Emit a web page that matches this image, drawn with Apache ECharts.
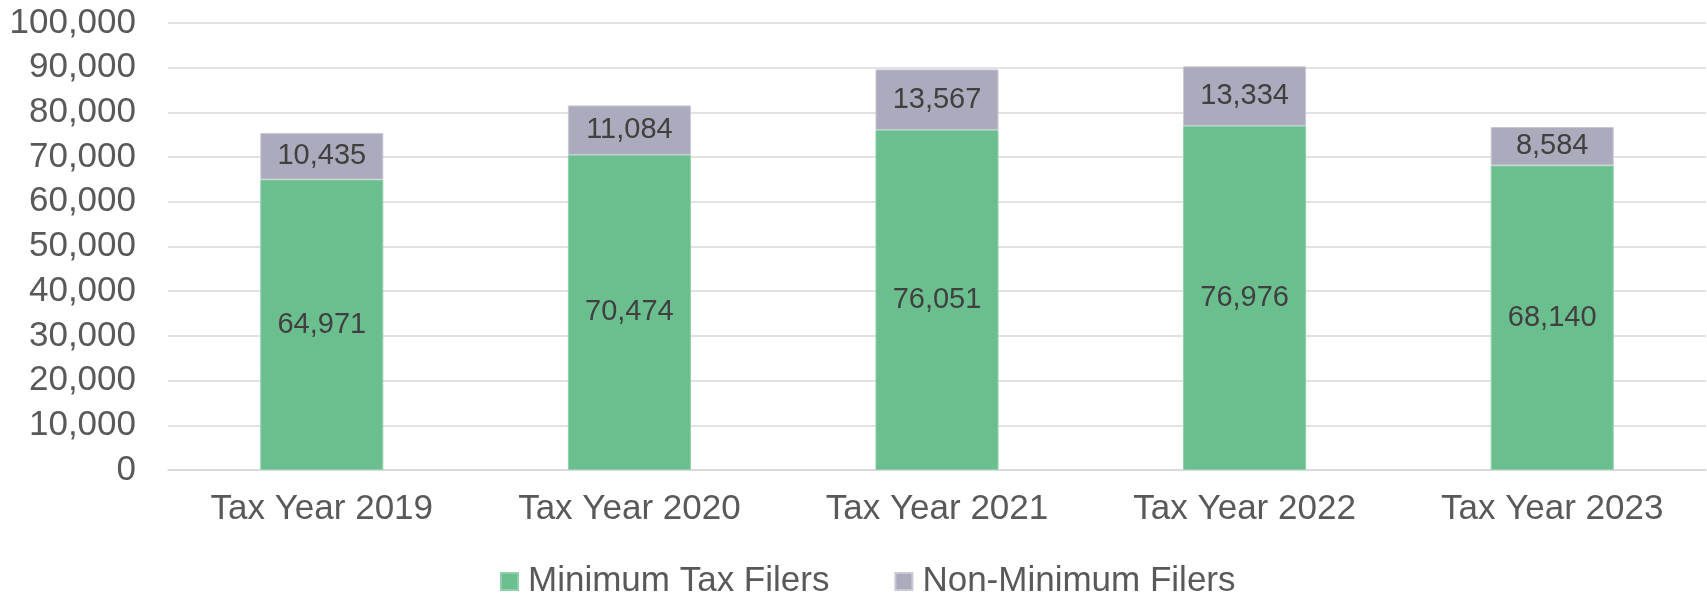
<!DOCTYPE html>
<html>
<head>
<meta charset="utf-8">
<script src="https://cdn.jsdelivr.net/npm/echarts@6/dist/echarts.min.js"></script>
<style>
  html, body { margin: 0; padding: 0; background: #ffffff; }
  #chart { width: 1707px; height: 596px; }
</style>
</head>
<body>
<div id="chart"></div>
<script>
// Filers by tax year, stacked: minimum-tax filers below, everyone else on top
const categories = ['Tax Year 2019', 'Tax Year 2020', 'Tax Year 2021', 'Tax Year 2022', 'Tax Year 2023'];
const minimumTaxFilers = [64971, 70474, 76051, 76976, 68140];
const nonMinimumFilers = [10435, 11084, 13567, 13334, 8584];
const seriesNames = ['Minimum Tax Filers', 'Non-Minimum Filers'];

const FONT = '"Liberation Sans", Arial, sans-serif';
const fmt = v => v.toLocaleString('en-US');

const chart = echarts.init(document.getElementById('chart'), null, { renderer: 'canvas' });

// value label drawn centred inside each stacked segment
function segmentLabel() {
  return {
    show: true,
    position: 'inside',
    formatter: p => '{v|' + fmt(p.value) + '}',
    rich: {
      v: { color: '#404040', fontFamily: FONT, fontSize: 29, lineHeight: 34 }
    }
  };
}

chart.setOption({
  animation: false,
  backgroundColor: '#ffffff',
  grid: { left: 168, right: 1, top: 23, bottom: 126, containLabel: false },
  legend: {
    data: seriesNames,
    left: 495,
    top: 559,
    itemWidth: 17,
    itemHeight: 17,
    itemGap: 65,
    icon: 'rect',
    textStyle: { color: '#595959', fontFamily: FONT, fontSize: 35, padding: [0, 0, 0, 5] }
  },
  xAxis: {
    type: 'category',
    data: categories,
    axisLine: { show: true, lineStyle: { color: '#d9d9d9', width: 1.5 } },
    axisTick: { show: false },
    axisLabel: { color: '#595959', fontFamily: FONT, fontSize: 35, margin: 22 }
  },
  yAxis: {
    type: 'value',
    min: 0,
    max: 100000,
    interval: 10000,
    axisLine: { show: false },
    axisTick: { show: false },
    splitLine: { lineStyle: { color: '#d9d9d9', width: 1.5 } },
    axisLabel: { color: '#595959', fontFamily: FONT, fontSize: 35, margin: 32, formatter: v => fmt(v) }
  },
  series: [
    {
      name: seriesNames[0],
      type: 'bar',
      stack: 'filers',
      barWidth: '40%',
      data: minimumTaxFilers,
      itemStyle: { color: '#6bbf8f', borderColor: '#8fd0aa', borderWidth: 1 },
      label: segmentLabel()
    },
    {
      name: seriesNames[1],
      type: 'bar',
      stack: 'filers',
      barWidth: '40%',
      data: nonMinimumFilers,
      itemStyle: { color: '#acabbe', borderColor: '#c9c8d6', borderWidth: 1 },
      label: segmentLabel()
    }
  ]
});
</script>
</body>
</html>
